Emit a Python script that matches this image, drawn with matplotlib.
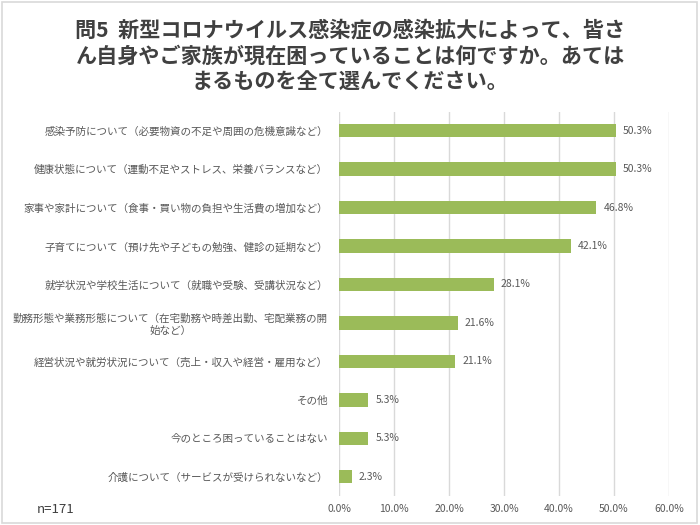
import matplotlib
matplotlib.use("Agg")
import matplotlib.pyplot as plt
from matplotlib.patches import Rectangle
from matplotlib.ticker import FuncFormatter

plt.rcParams['font.family'] = ['Noto Sans CJK JP', 'DejaVu Sans']

title = "問5  新型コロナウイルス感染症の感染拡大によって、皆さ\nん自身やご家族が現在困っていることは何ですか。あては\nまるものを全て選んでください。"

categories = [
    "感染予防について（必要物資の不足や周囲の危機意識など）",
    "健康状態について（運動不足やストレス、栄養バランスなど）",
    "家事や家計について（食事・買い物の負担や生活費の増加など）",
    "子育てについて（預け先や子どもの勉強、健診の延期など）",
    "就学状況や学校生活について（就職や受験、受講状況など）",
    "勤務形態や業務形態について（在宅勤務や時差出勤、宅配業務の開\n始など）",
    "経営状況や就労状況について（売上・収入や経営・雇用など）",
    "その他",
    "今のところ困っていることはない",
    "介護について（サービスが受けられないなど）",
]
values = [50.3, 50.3, 46.8, 42.1, 28.1, 21.6, 21.1, 5.3, 5.3, 2.3]
xticks = [0, 10, 20, 30, 40, 50, 60]
note = "n=171"

fig = plt.figure(figsize=(7, 5.25), dpi=100)
fig.patch.set_facecolor('white')
fig.patches.append(Rectangle((0.003, 0.004), 0.993, 0.992, transform=fig.transFigure,
                             fill=False, edgecolor='#d9d9d9', linewidth=1.2))

ax = fig.add_axes([0.4843, 0.0554, 0.4714, 0.7322])
y = list(range(len(categories)))
ax.barh(y, values, height=0.35, color='#9BBB59', zorder=3)
ax.set_ylim(len(categories) - 0.5, -0.5)
ax.set_xlim(0, 60)
ax.set_xticks(xticks)
ax.xaxis.set_major_formatter(FuncFormatter(lambda v, p: f"{v:.1f}%"))
ax.grid(axis='x', color='#d9d9d9', linewidth=1, zorder=0)
for s in ax.spines.values():
    s.set_visible(False)
ax.tick_params(axis='x', length=0, labelsize=7.5, labelcolor='#595959', pad=6)
ax.set_yticks(y)
ax.set_yticklabels(categories, fontsize=7.6, color='#595959', multialignment='center',
                   linespacing=1.25)
ax.tick_params(axis='y', length=0, pad=8)

for yi, v in zip(y, values):
    ax.text(v + 1.3, yi, f"{v:.1f}%", va='center', ha='left', fontsize=7.5, color='#595959')

fig.text(0.5, 0.963, title, ha='center', va='top', fontsize=15.2, fontweight='bold',
         color='#404040', linespacing=1.3)
fig.text(0.053, 0.03, note, ha='left', va='center', fontsize=9.5, color='#404040')

fig.savefig("out.png", dpi=100, facecolor='white')
